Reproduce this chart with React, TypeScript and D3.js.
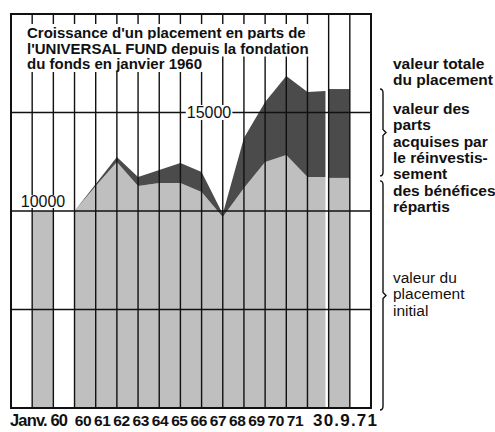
import React, { useEffect, useRef } from 'react';
import * as d3 from 'd3';

// x axis labels
const startLabel = 'Janv. 60';
const yearLabels = ['60', '61', '62', '63', '64', '65', '66', '67', '68', '69', '70', '71'];
const endLabel = '30.9.71';

// values read at each yearly grid line, from Janv. 60 onwards
const initialValues = [10000, 11270, 12490, 11270, 11420, 11420, 10960, 9700, 11170, 12490, 12840, 11730];
const totalValues = [10000, 11370, 12740, 11730, 12080, 12440, 11980, 9850, 13710, 15530, 16850, 16040];
const startValue = 10000;
const lastYear = { initial: 11730, total: 16090 };
const sept71 = { initial: 11680, total: 16190 };

const yTicks = [5000, 10000, 15000];

const titleLines = [
  "Croissance d'un placement en parts de",
  "l'UNIVERSAL FUND depuis la fondation",
  'du fonds en janvier 1960',
];
const legendTotal = ['valeur totale', 'du placement'];
const legendReinvest = ['valeur des', 'parts', 'acquises par', 'le réinvestis-', 'sement', 'des bénéfices', 'répartis'];
const legendInitial = ['valeur du', 'placement', 'initial'];

const FONT = '"Liberation Sans", Arial, sans-serif';
const LIGHT = '#bfbfbf';
const DARK = '#4b4b4b';

function App() {
  const ref = useRef<SVGSVGElement>(null);

  useEffect(() => {
    const svg = d3.select(ref.current);
    svg.selectAll('*').remove();

    const x = d3.scaleLinear().domain([0, 17]).range([11, 371]);
    const y = d3.scaleLinear().domain([0, 20000]).range([408, 14]);

    svg.append('rect').attr('width', 495).attr('height', 432).attr('fill', '#fff');

    // Janv. 60 bar
    svg.append('rect')
      .attr('x', x(1)).attr('y', y(startValue))
      .attr('width', x(2) - x(1)).attr('height', y(0) - y(startValue))
      .attr('fill', LIGHT);

    // yearly area
    const gap = 0.15;
    const pts = initialValues.map((v, i) => ({ pos: 3 + i, lo: v, hi: totalValues[i] }));
    pts.push({ pos: 15 - gap, lo: lastYear.initial, hi: lastYear.total });

    const lightArea = d3.area<any>().x(d => x(d.pos)).y0(y(0)).y1(d => y(d.lo));
    const darkArea = d3.area<any>().x(d => x(d.pos)).y0(d => y(d.lo)).y1(d => y(d.hi));
    svg.append('path').datum(pts).attr('d', lightArea).attr('fill', LIGHT);
    svg.append('path').datum(pts).attr('d', darkArea).attr('fill', DARK);

    // 30.9.71 column
    svg.append('rect')
      .attr('x', x(15)).attr('y', y(sept71.initial))
      .attr('width', x(16) - x(15)).attr('height', y(0) - y(sept71.initial))
      .attr('fill', LIGHT);
    svg.append('rect')
      .attr('x', x(15)).attr('y', y(sept71.total))
      .attr('width', x(16) - x(15)).attr('height', y(sept71.initial) - y(sept71.total))
      .attr('fill', DARK);

    // grid
    const grid = svg.append('g').attr('stroke', '#111').attr('stroke-width', 1.4);
    grid.selectAll('line.v').data(d3.range(1, 17)).join('line')
      .attr('x1', d => x(d)).attr('x2', d => x(d))
      .attr('y1', y(20000)).attr('y2', y(0));
    grid.selectAll('line.h').data(yTicks).join('line')
      .attr('x1', x(0)).attr('x2', x(17))
      .attr('y1', d => y(d)).attr('y2', d => y(d));
    svg.append('rect')
      .attr('x', x(0)).attr('y', y(20000))
      .attr('width', x(17) - x(0)).attr('height', y(0) - y(20000))
      .attr('fill', 'none').attr('stroke', '#111').attr('stroke-width', 2);

    // text with white backing
    const boxedText = (tx: number, ty: number, s: string, size: number, weight: string, anchor: string, padX: number, padY: number) => {
      const g = svg.append('g');
      const r = g.append('rect').attr('fill', '#fff');
      const t = g.append('text')
        .attr('x', tx).attr('y', ty)
        .attr('font-family', FONT).attr('font-size', size).attr('font-weight', weight)
        .attr('text-anchor', anchor).attr('fill', '#111')
        .text(s);
      const b = (t.node() as SVGTextElement).getBBox();
      r.attr('x', b.x - padX).attr('y', b.y - padY)
        .attr('width', b.width + 2 * padX).attr('height', b.height + 2 * padY);
    };

    titleLines.forEach((s, i) => boxedText(27, 38 + i * 15.5, s, 15, 'bold', 'start', 3, 0));

    boxedText(209, y(15000) + 5.5, '15000', 16, 'normal', 'middle', 1, -1);
    boxedText(43, y(10000) - 4, '10000', 16, 'normal', 'middle', 1, -2);

    // x labels
    const labels = svg.append('g')
      .attr('font-family', FONT).attr('font-weight', 'bold').attr('fill', '#111');
    labels.append('text').attr('x', 10).attr('y', 426).attr('font-size', 16.5)
      .attr('textLength', 58).text(startLabel);
    const lx = d3.scalePoint().domain(yearLabels).range([83, 295]);
    labels.selectAll('text.yr').data(yearLabels).join('text')
      .attr('x', d => lx(d)!).attr('y', 426).attr('text-anchor', 'middle')
      .attr('font-size', 15.5).attr('letter-spacing', -0.4).text(d => d);
    labels.append('text').attr('x', 313).attr('y', 426).attr('font-size', 17)
      .attr('textLength', 64).text(endLabel);

    // legend
    const legend = (lines: string[], top: number, weight: string) => {
      svg.append('g').attr('font-family', FONT).attr('font-size', 15.5).attr('font-weight', weight).attr('fill', '#111')
        .selectAll('text').data(lines).join('text')
        .attr('x', 393).attr('y', (_, i) => top + i * 16.3).text(d => d);
    };
    legend(legendTotal, 69, 'bold');
    legend(legendReinvest, 114, 'bold');
    legend(legendInitial, 283, 'normal');

    // brackets
    const bracket = (y0: number, y1: number) => {
      const m = (y0 + y1) / 2;
      return `M380,${y0} Q383,${y0} 383,${y0 + 4} L383,${m - 3} L386,${m} L383,${m + 3} L383,${y1 - 4} Q383,${y1} 380,${y1}`;
    };
    svg.append('path').attr('d', bracket(y(sept71.total), y(sept71.initial) - 2))
      .attr('fill', 'none').attr('stroke', '#111').attr('stroke-width', 1.4);
    svg.append('path').attr('d', bracket(y(sept71.initial) + 3, y(0) + 2))
      .attr('fill', 'none').attr('stroke', '#111').attr('stroke-width', 1.4);
  }, []);

  return (
    <svg ref={ref} width={495} height={432}
      style={{ position: 'absolute', left: 0, top: 0, display: 'block' }} />
  );
}

export default App;
